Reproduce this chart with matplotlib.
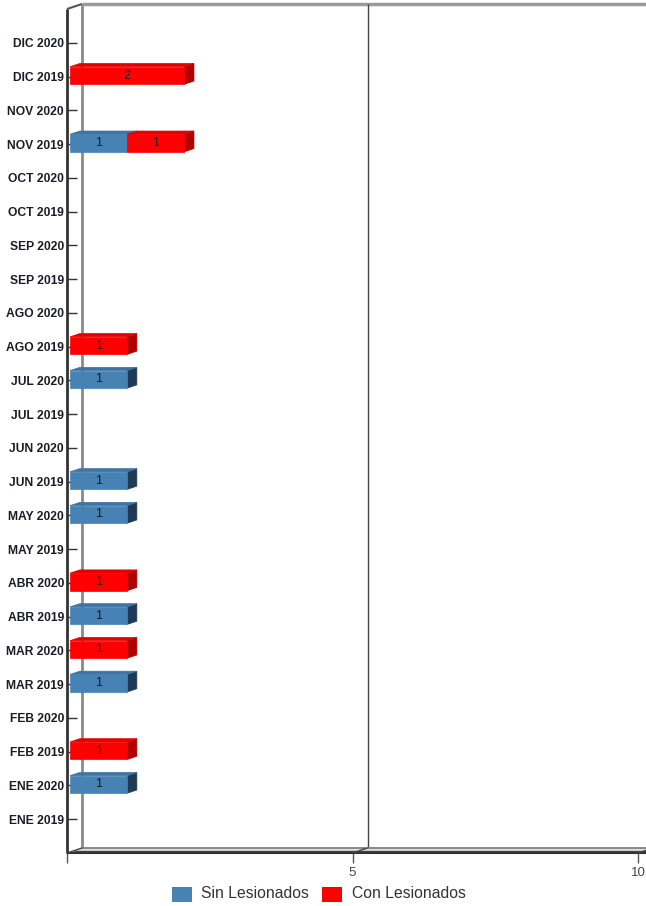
import matplotlib
matplotlib.use("Agg")
import matplotlib.pyplot as plt
from matplotlib.patches import Polygon, Rectangle
from matplotlib.lines import Line2D
from matplotlib.transforms import IdentityTransform
import numpy as np

# ---- data (bottom to top) ----
categories = ["ENE 2019", "ENE 2020", "FEB 2019", "FEB 2020", "MAR 2019", "MAR 2020",
              "ABR 2019", "ABR 2020", "MAY 2019", "MAY 2020", "JUN 2019", "JUN 2020",
              "JUL 2019", "JUL 2020", "AGO 2019", "AGO 2020", "SEP 2019", "SEP 2020",
              "OCT 2019", "OCT 2020", "NOV 2019", "NOV 2020", "DIC 2019", "DIC 2020"]
sin_lesionados = [0, 1, 0, 0, 1, 0, 1, 0, 0, 1, 1, 0, 0, 1, 0, 0, 0, 0, 0, 0, 1, 0, 0, 0]
con_lesionados = [0, 0, 1, 0, 0, 1, 0, 1, 0, 0, 0, 0, 0, 0, 1, 0, 0, 0, 0, 0, 1, 0, 2, 0]
series_names = ["Sin Lesionados", "Con Lesionados"]
x_ticks = [0, 5, 10]
x_tick_labels = ["", "5", "10"]

colors = {"face": ["#4682B4", "#FF0000"],
          "top": ["#3d74a3", "#e60000"],
          "side": ["#1f3a57", "#b00000"]}

W, H = 646, 906
fig = plt.figure(figsize=(W / 100, H / 100), dpi=100)
ax = fig.add_axes([67 / W, 53 / H, 571 / W, 844 / H])
ax.set_xlim(0, 10)
ax.set_ylim(-1, 24)
for s in ax.spines.values():
    s.set_visible(False)
ax.set_facecolor("white")

sans = ["Liberation Sans", "DejaVu Sans"]
ax.set_yticks(range(len(categories)))
ax.set_yticklabels(categories, fontsize=8.7, fontweight="bold", color="#1c1c28", family=sans)
ax.tick_params(axis="y", direction="in", length=7, width=1, color="#333333", pad=2.2)
ax.set_xticks(x_ticks)
ax.set_xticklabels(x_tick_labels, fontsize=9.5, color="#444444", family=sans)
ax.tick_params(axis="x", direction="out", length=7, width=1, color="#555555", pad=3)

DX, DY = 15.0, 5.0  # depth vector in display pixels


def P(x, y, dz):
    px, py = ax.transData.transform((x, y))
    return (px + dz * DX, py + dz * DY)


ID = IdentityTransform()


def line(pts, color, lw, z=2):
    xs = [p[0] for p in pts]
    ys = [p[1] for p in pts]
    fig.add_artist(Line2D(xs, ys, transform=ID, color=color, lw=lw, zorder=z,
                          solid_capstyle="butt"))


def poly(pts, fc, ec=None, lw=0.5, z=3):
    fig.add_artist(Polygon(pts, closed=True, transform=ID, facecolor=fc,
                           edgecolor=ec if ec else fc, lw=lw, zorder=z))


ymin, ymax = -1, 24
xmax = 10.5
# back wall
line([P(0, ymin, 1), P(0, ymax, 1)], "#8a8a8a", 2)
line([P(0, ymax, 1), P(xmax, ymax, 1)], "#9a9a9a", 2.5)
line([P(5, ymin, 1), P(5, ymax, 1)], "#444444", 1)
# floor
poly([P(0, ymin, 0), P(xmax, ymin, 0), P(xmax, ymin, 1), P(0, ymin, 1)], "#e4e4e4", None, 0, z=1.5)
line([P(0, ymin, 1), P(xmax, ymin, 1)], "#777777", 1.2)
line([P(0, ymin, 0.45), P(xmax, ymin, 0.45)], "#444444", 1.0)
line([P(0, ymin, 0), P(xmax, ymin, 0)], "#333333", 1.5)
for xt in x_ticks:
    line([P(xt, ymin, 0), P(xt, ymin, 1)], "#444444", 1)
# left wall
line([P(0, ymax, 0), P(0, ymax, 1)], "#555555", 1.5)
line([P(0, ymin, 0), P(0, ymax, 0)], "#333333", 2)

# bars
bh = 0.52
z0, z1 = 0.2, 0.85
for i, cat in enumerate(categories):
    left = 0.0
    for k, vals in enumerate([sin_lesionados, con_lesionados]):
        v = vals[i]
        if v <= 0:
            continue
        x0, x1 = left, left + v
        yb, yt = i - bh / 2, i + bh / 2
        front = [P(x0, yb, z0), P(x1, yb, z0), P(x1, yt, z0), P(x0, yt, z0)]
        top = [P(x0, yt, z0), P(x1, yt, z0), P(x1, yt, z1), P(x0, yt, z1)]
        side = [P(x1, yb, z0), P(x1, yb, z1), P(x1, yt, z1), P(x1, yt, z0)]
        poly(side, colors["side"][k], z=3 + k * 0.1)
        poly(top, colors["top"][k], z=3 + k * 0.1)
        poly(front, colors["face"][k], z=3.05 + k * 0.1)
        cx, cy = P((x0 + x1) / 2, i, z0)
        fig.text(cx / W, cy / H, f"{v:g}", ha="center", va="center", fontsize=9,
                 color="#1a1a1a", zorder=5, family=sans)
        left = x1

# legend
leg_y = 894
items = [(172, 201), (322, 352)]
for k, (sx, tx) in enumerate(items):
    fig.add_artist(Rectangle((sx, H - leg_y - 7.5), 20, 15, transform=ID,
                             facecolor=colors["face"][k], edgecolor="none"))
    fig.text(tx / W, (H - leg_y) / H, series_names[k], ha="left", va="center",
             fontsize=11.3, color="#333333", family=sans)

fig.savefig("out.png", dpi=100)
